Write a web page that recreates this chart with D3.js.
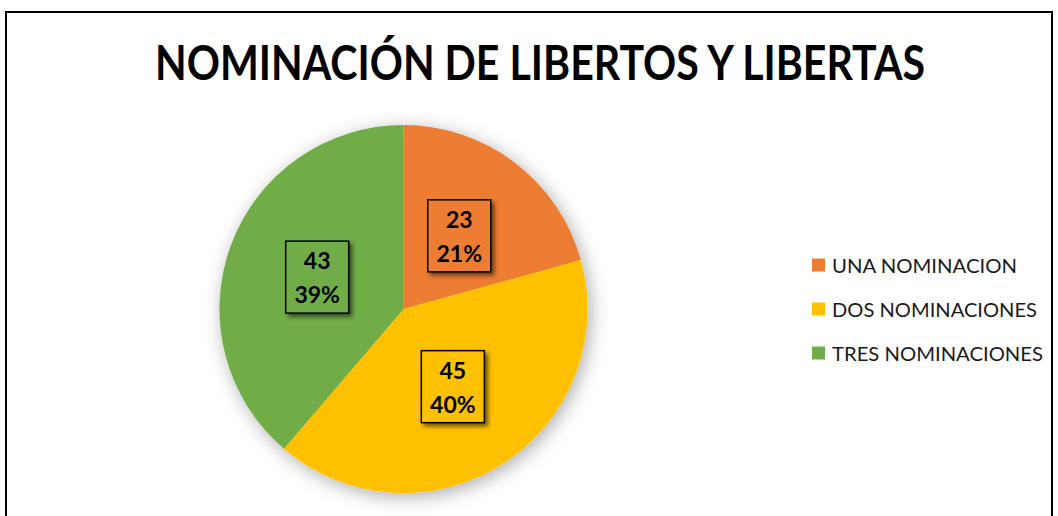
<!DOCTYPE html>
<html><head><meta charset="utf-8">
<script src="https://cdn.jsdelivr.net/npm/d3@7/dist/d3.min.js"></script>
<style>html,body{margin:0;padding:0;background:#fff;}svg{display:block;}</style>
</head><body>
<svg id="chart" width="1058" height="516"></svg>
<script>
const title = "NOMINACIÓN DE LIBERTOS Y LIBERTAS";
const categories = ["UNA NOMINACION", "DOS NOMINACIONES", "TRES NOMINACIONES"];
const values = [23, 45, 43];
const percentLabels = ["21%", "40%", "39%"];
const colors = ["#ED7D31", "#FFC000", "#70AD47"];

const svg = d3.select("#chart");
const defs = svg.append("defs");
const f1 = defs.append("filter").attr("id","pieShadow").attr("x","-30%").attr("y","-30%").attr("width","160%").attr("height","160%");
f1.append("feDropShadow").attr("dx",3).attr("dy",4).attr("stdDeviation",9).attr("flood-color","#000").attr("flood-opacity",0.32);
const f2 = defs.append("filter").attr("id","boxShadow").attr("x","-30%").attr("y","-30%").attr("width","160%").attr("height","160%");
f2.append("feDropShadow").attr("dx",3).attr("dy",3).attr("stdDeviation",2).attr("flood-color","#000").attr("flood-opacity",0.55);

// frame
svg.append("rect").attr("x",6).attr("y",12).attr("width",1046).attr("height",520)
  .attr("fill","#fff").attr("stroke","#000").attr("stroke-width",2);

svg.append("text").attr("x",540).attr("y",80).attr("text-anchor","middle")
  .attr("font-family","Lato, 'Open Sans', sans-serif").attr("font-weight","bold")
  .attr("font-size",48).attr("textLength",770).attr("lengthAdjust","spacingAndGlyphs")
  .attr("fill","#000").text(title);

const cx = 403.5, cy = 309, R = 184;
const pie = d3.pie().sort(null).value(d => d)(values);
const arc = d3.arc().innerRadius(0).outerRadius(R);
const g = svg.append("g").attr("transform",`translate(${cx},${cy})`);
g.append("g").attr("filter","url(#pieShadow)")
  .selectAll("path").data(pie).join("path")
  .attr("d",arc).attr("fill",(d,i)=>colors[i]);

const bw = 63, bh = 72;
const lab = g.selectAll("g.lab").data(pie).join("g").attr("class","lab")
  .attr("transform",d=>{const c=arc.centroid(d);return `translate(${c[0]},${c[1]})`;});
lab.append("rect").attr("x",-bw/2).attr("y",-bh/2).attr("width",bw).attr("height",bh)
  .attr("fill",(d,i)=>colors[i]).attr("stroke","#000").attr("stroke-width",1.5)
  .attr("filter","url(#boxShadow)");
lab.append("text").attr("text-anchor","middle").attr("y",-8)
  .attr("font-family","Lato, sans-serif").attr("font-weight","bold").attr("font-size",23)
  .attr("fill","#000").text(d=>d.data);
lab.append("text").attr("text-anchor","middle").attr("y",26)
  .attr("font-family","Lato, sans-serif").attr("font-weight","bold").attr("font-size",23)
  .attr("fill","#000").text((d,i)=>percentLabels[i]);

const legW = [185, 205, 211];
const leg = svg.append("g").selectAll("g").data(categories).join("g")
  .attr("transform",(d,i)=>`translate(812,${265 + i*44})`);
leg.append("rect").attr("x",0).attr("y",-6.5).attr("width",13).attr("height",13).attr("fill",(d,i)=>colors[i]);
leg.append("text").attr("x",20).attr("y",7.5)
  .attr("font-family","Lato, 'Open Sans', sans-serif").attr("font-size",20)
  .attr("textLength",(d,i)=>legW[i]).attr("lengthAdjust","spacingAndGlyphs")
  .attr("fill","#1a1a1a").text(d=>d);
</script>
</body></html>
